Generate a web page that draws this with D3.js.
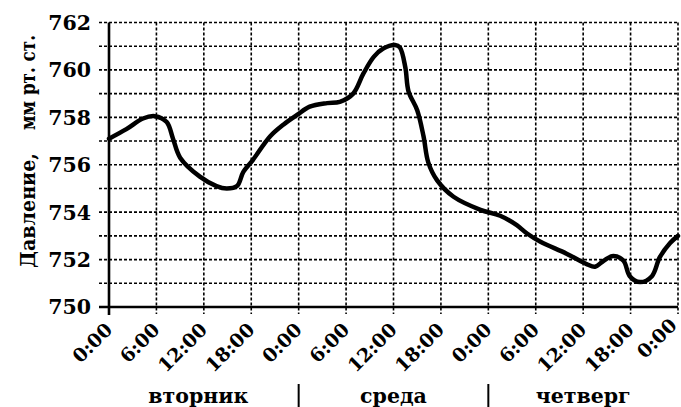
<!DOCTYPE html>
<html><head><meta charset="utf-8">
<script src="https://cdn.jsdelivr.net/npm/d3@7"></script>
<style>
html,body{margin:0;padding:0;background:#fff;}
text{font-family:"DejaVu Serif",serif;font-weight:bold;fill:#000;}
</style></head>
<body>
<svg id="c" width="681" height="407"></svg>
<script>
// Hours since Tuesday 0:00
const hours = [0, 2.2, 4.3, 5.8, 7.3, 8.1, 9.0, 11.5, 13.6, 14.9, 16.2, 17.0, 18.2, 20.4, 22.1, 23.8, 25.4, 27.6, 29.2,
  30.9, 32.2, 33.5, 34.7, 36.2, 36.8, 37.5, 37.9, 39.0, 39.8, 40.4, 41.5, 43.6,
  47.0, 49.5, 51.6, 52.9, 54.6, 57.9, 60.5, 61.5, 62.6, 63.8, 65.1, 65.9, 67.2, 68.7, 69.7, 71.0, 72];
const pressure = [757.1, 757.5, 757.95, 758.05, 757.8, 757.1, 756.3, 755.5, 755.1, 755.0, 755.1, 755.7, 756.2, 757.2, 757.7, 758.1, 758.45, 758.6, 758.65,
  759.0, 759.85, 760.55, 760.9, 761.05, 760.95, 760.1, 759.1, 758.3, 757.2, 756.1, 755.35, 754.65,
  754.1, 753.85, 753.45, 753.1, 752.75, 752.25, 751.8, 751.7, 751.95, 752.15, 751.95, 751.3, 751.05, 751.3, 752.1, 752.7, 753.0];
const xTickHours = [0, 6, 12, 18, 24, 30, 36, 42, 48, 54, 60, 66, 72];
const xTickLabels = ["0:00","6:00","12:00","18:00","0:00","6:00","12:00","18:00","0:00","6:00","12:00","18:00","0:00"];
const yTicks = [750, 752, 754, 756, 758, 760, 762];
const yGrid = [751, 752, 753, 754, 755, 756, 757, 758, 759, 760, 761, 762];
const days = ["вторник", "среда", "четверг"];
const dayCenters = [11.3, 36, 60];
const daySeparators = [24, 48];
const yTitleParts = ["Давление,", "мм рт. ст."];

const svg = d3.select("#c");
const x = d3.scaleLinear().domain([0, 72]).range([109, 678]);
const y = d3.scaleLinear().domain([750, 762]).range([307, 22.5]);

// horizontal grid (dotted), extending left of axis as ticks
svg.append("g").selectAll("line").data(yGrid).join("line")
  .attr("x1", 99).attr("x2", x(72))
  .attr("y1", d => y(d)).attr("y2", d => y(d))
  .attr("stroke", "#000").attr("stroke-width", 1.6).attr("stroke-dasharray", "3,2");
svg.append("line").attr("x1", 99).attr("x2", 109).attr("y1", y(750)).attr("y2", y(750))
  .attr("stroke", "#000").attr("stroke-width", 1.6).attr("stroke-dasharray", "3,2");

// vertical grid
svg.append("g").selectAll("line").data(xTickHours.slice(1)).join("line")
  .attr("x1", d => x(d)).attr("x2", d => x(d))
  .attr("y1", y(762)).attr("y2", 314)
  .attr("stroke", "#000").attr("stroke-width", 1.6).attr("stroke-dasharray", "3,2");

// axes
svg.append("line").attr("x1", x(0)).attr("x2", x(0)).attr("y1", y(762)).attr("y2", 315)
  .attr("stroke", "#000").attr("stroke-width", 2.6);
svg.append("line").attr("x1", 99).attr("x2", x(72)).attr("y1", y(750)).attr("y2", y(750))
  .attr("stroke", "#000").attr("stroke-width", 2.6);

// y labels
svg.append("g").selectAll("text").data(yTicks).join("text")
  .attr("x", 91).attr("y", d => y(d)).attr("dy", "0.36em")
  .attr("text-anchor", "end").attr("font-size", 20.5)
  .text(d => d);

// x labels
svg.append("g").selectAll("text").data(xTickHours).join("text")
  .attr("transform", d => `translate(${Math.min(x(d) + 4.5, 678)},${Math.min(331, 331 - (x(d) + 4.5 - Math.min(x(d) + 4.5, 678)))}) rotate(-45)`)
  .attr("text-anchor", "end").attr("font-size", 19)
  .text((d, i) => xTickLabels[i]);

// day labels
svg.append("g").selectAll("text").data(days).join("text")
  .attr("x", (d, i) => x(dayCenters[i])).attr("y", 403)
  .attr("text-anchor", "middle").attr("font-size", 20.5)
  .text(d => d);
svg.append("g").selectAll("line").data(daySeparators).join("line")
  .attr("x1", d => x(d)).attr("x2", d => x(d)).attr("y1", 384).attr("y2", 407)
  .attr("stroke", "#000").attr("stroke-width", 2);

// y title in two parts, fitted to reference extents
const titleCenters = [210.5, 82.5];
const titleWidths = [115, 95];
yTitleParts.forEach((t, i) => {
  svg.append("text")
    .attr("transform", `translate(35,${titleCenters[i]}) rotate(-90)`)
    .attr("text-anchor", "middle").attr("font-size", 20)
    .attr("textLength", titleWidths[i]).attr("lengthAdjust", "spacingAndGlyphs")
    .text(t);
});

// curve
const line = d3.line().x((d, i) => x(hours[i])).y(d => y(d)).curve(d3.curveCatmullRom.alpha(0.5));
svg.append("path").datum(pressure).attr("d", line)
  .attr("fill", "none").attr("stroke", "#000").attr("stroke-width", 4.5)
  .attr("stroke-linejoin", "round").attr("stroke-linecap", "round");
</script>
</body></html>
